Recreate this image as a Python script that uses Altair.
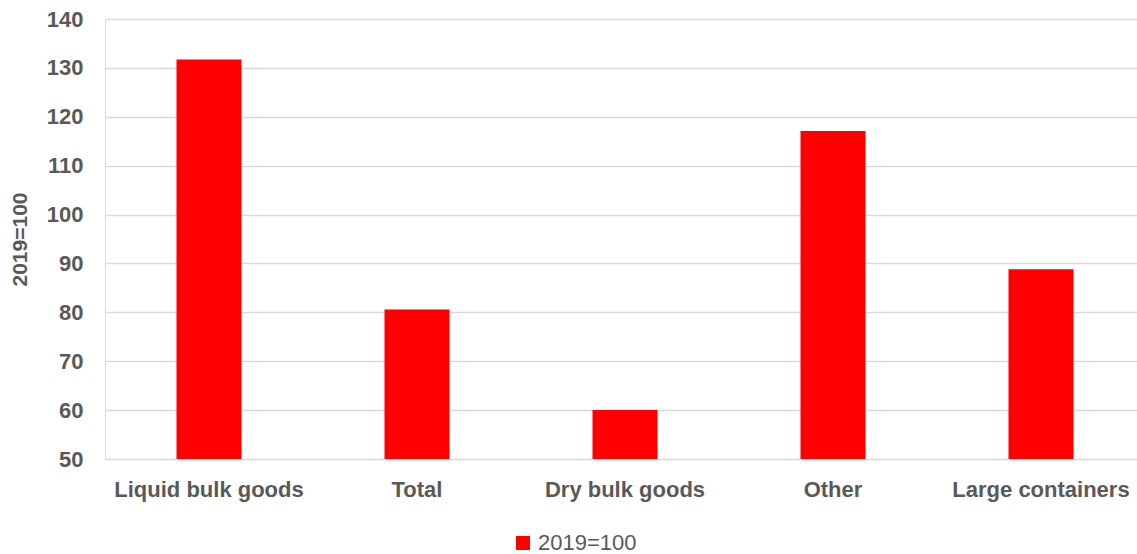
import altair as alt
import pandas as pd

categories = ["Liquid bulk goods", "Total", "Dry bulk goods", "Other", "Large containers"]
values = [131.7, 80.6, 60.0, 117.1, 88.8]
series_name = "2019=100"
baseline = 50

df = pd.DataFrame({"category": categories, "value": values, "series": [series_name] * len(categories)})

FONT = "Liberation Sans"
GRAY = "#595959"

chart = alt.Chart(df).mark_bar(color="#FF0000").encode(
    x=alt.X("category:N", sort=categories,
            scale=alt.Scale(range=[0, 1040], paddingInner=0.6875, paddingOuter=0.34375),
            axis=alt.Axis(title=None, labelAngle=0, labelFont=FONT, labelFontSize=22,
                          labelFontWeight="bold", labelColor=GRAY, ticks=False, domain=False,
                          labelPadding=20, labelOverlap=False, labelBound=False, labelLimit=0)),
    y=alt.Y("value:Q", scale=alt.Scale(domain=[50, 140], nice=False, zero=False),
            axis=alt.Axis(values=list(range(50, 141, 10)), title="2019=100", titleFont=FONT,
                          titleFontSize=21, titleFontWeight="bold", titleColor=GRAY,
                          titlePadding=16, labelFont=FONT, labelFontSize=22, labelFontWeight="bold",
                          labelColor=GRAY, labelPadding=22, ticks=False, domain=False,
                          gridColor="#D9D9D9", gridWidth=1.5)),
    y2=alt.datum(baseline),
    color=alt.Color("series:N", scale=alt.Scale(range=["#FF0000"]),
                    legend=alt.Legend(title=None, orient="none", legendX=407, legendY=513,
                                      symbolType="square", symbolSize=196, symbolStrokeWidth=0,
                                      labelFont=FONT, labelFontSize=22, labelColor=GRAY,
                                      symbolOpacity=1)),
).properties(
    width=1032, height=440,
    autosize=alt.AutoSizeParams(type="none"),
    padding={"left": 105, "top": 19, "right": 0, "bottom": 95},
).configure_view(stroke=None).configure(background="white")

chart.save("out.html", embed_options={"renderer": "svg", "actions": False})
